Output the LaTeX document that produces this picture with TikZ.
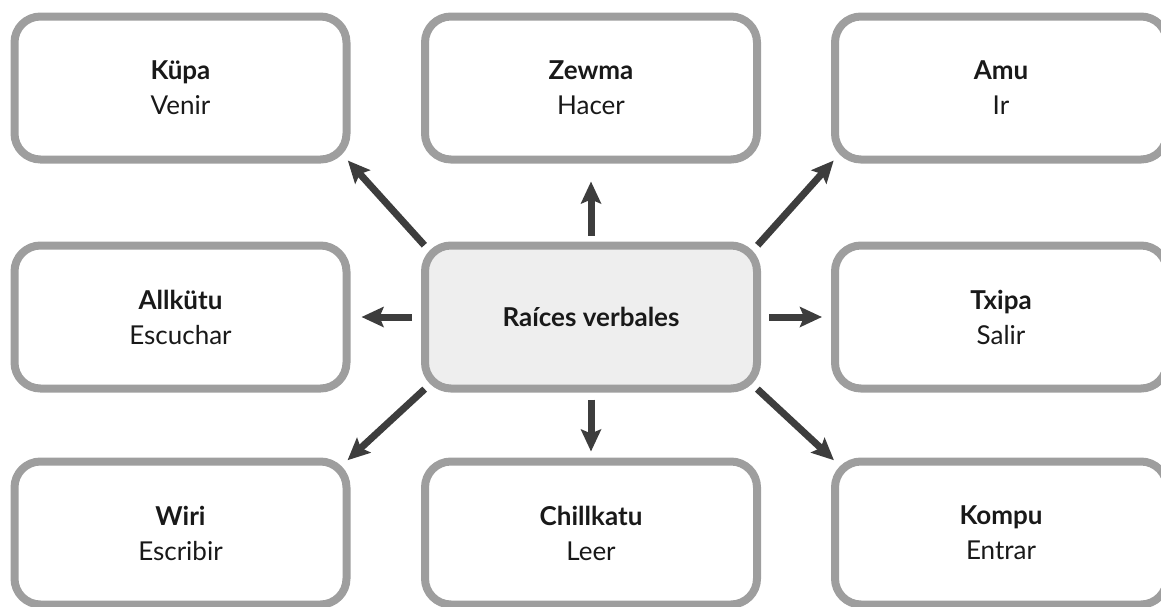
\documentclass[tikz,border=0pt]{standalone}
\usepackage{xcolor}
\usepackage{tikz}
\usetikzlibrary{arrows.meta}
\usepackage{fontspec}
\setmainfont{Lato}
\definecolor{mapgray}{HTML}{9E9E9E}
\definecolor{mapfill}{HTML}{EEEEEE}
\definecolor{mapdark}{HTML}{3D3D3D}

\tikzset{
  verbbox/.style={draw=mapgray,line width=8pt,rounded corners=26pt,fill=white,
    minimum width=332pt,minimum height=143pt,align=center,
    font=\fontsize{26}{35}\selectfont,text=black!90},
  rootbox/.style={verbbox,fill=mapfill,font=\fontsize{26}{35}\selectfont\bfseries},
  verbarrow/.style={mapdark,line width=7pt,
    -{Stealth[length=22pt,width=20pt,inset=4pt]}}
}

\begin{document}
\begin{tikzpicture}[x=1pt,y=-1pt]
  \useasboundingbox (0,0) rectangle (1161,606);
  \node[rootbox] (raices) at (591,317) {Raíces verbales};
  \node[verbbox] (kupa) at (180.5,88) {\textbf{Küpa}\\Venir};
  \node[verbbox] (zewma) at (591,88) {\textbf{Zewma}\\Hacer};
  \node[verbbox] (amu) at (1001,88) {\textbf{Amu}\\Ir};
  \node[verbbox] (allkutu) at (180.5,317) {\textbf{Allkütu}\\Escuchar};
  \node[verbbox] (txipa) at (1001,317) {\textbf{Txipa}\\Salir};
  \node[verbbox] (wiri) at (180.5,533) {\textbf{Wiri}\\Escribir};
  \node[verbbox] (chillkatu) at (591,533) {\textbf{Chillkatu}\\Leer};
  \node[verbbox] (kompu) at (1001,533) {\textbf{Kompu}\\Entrar};
  % arrows from the root
  \draw[verbarrow,shorten <=6pt,shorten >=18pt] (raices.north) -- (zewma.south);
  \draw[verbarrow,shorten <=7pt,shorten >=6pt] (raices.south) -- (chillkatu.north);
  \draw[verbarrow,shorten <=9pt,shorten >=11pt] (raices.west) -- (allkutu.east);
  \draw[verbarrow,shorten <=8pt,shorten >=9pt] (raices.east) -- (txipa.west);
  \draw[verbarrow,shorten <=-5pt,shorten >=-4pt] (raices.north west) -- (kupa.south east);
  \draw[verbarrow,shorten <=-5pt,shorten >=-4pt] (raices.north east) -- (amu.south west);
  \draw[verbarrow,shorten <=-5pt,shorten >=-4pt] (raices.south west) -- (wiri.north east);
  \draw[verbarrow,shorten <=-5pt,shorten >=-4pt] (raices.south east) -- (kompu.north west);
\end{tikzpicture}
\end{document}
